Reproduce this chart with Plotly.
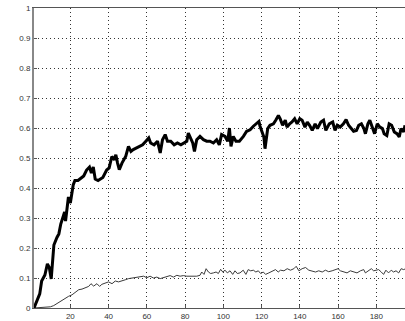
import plotly.graph_objects as go

# thick series (black)
x_main = [1, 4, 5, 6.7, 8, 9, 10, 10.5, 11.4, 13, 14, 15, 16, 17, 17.5, 18, 19, 20, 21.5, 22.4, 24, 26, 27, 28.5, 30, 31, 32, 33, 34.5, 37, 39,
          40.3, 41.7, 43, 43.8, 44.7, 45.6, 47, 48.2, 49, 50.4, 51.7, 52.9, 54.3, 56, 57.8, 59.5, 61, 62, 63.8, 65.6, 67, 68.2, 69.6, 70.8, 72.5, 74.3, 76, 77.8, 79.5,
          80.9, 81.7, 83, 84, 84.9, 86.1, 87.8, 89.6, 91.3, 93, 94.8, 96.5, 97.9, 99.1, 100.9, 102.3, 103.2, 104, 105.2, 106.6, 108.4, 110.5, 112.2, 114, 115.7, 117.4, 118.6, 119.2,
          120.4, 121.2, 121.8, 122.3, 123.2, 124.4, 126.2, 127.4, 128.8, 129.7, 131, 132.4, 133.3, 134.7, 135.9, 137.3, 138.6, 140, 141.2, 142.7, 143.9, 145.1, 146.5, 148, 149.2, 151, 152.4, 153.6, 155.4,
          157.2, 158.4, 159.6, 161.1, 162.8, 164.2, 165.5, 166.7, 168.1, 169.6, 170.8, 172.2, 173.5, 174.3, 175.6, 176.6, 177.9, 179.1, 180.5, 181.9, 183.2, 184.1, 185.5, 186.7, 188, 189.4, 190.8, 192, 192.9, 194.3, 195]
y_main = [0.0, 0.047, 0.09, 0.11, 0.147, 0.135, 0.097, 0.147, 0.21, 0.235, 0.247, 0.28, 0.30, 0.32, 0.29, 0.325, 0.37, 0.35, 0.41, 0.425, 0.425, 0.435, 0.44, 0.46, 0.47, 0.45, 0.47, 0.43, 0.425, 0.435, 0.46,
          0.467, 0.505, 0.494, 0.511, 0.483, 0.461, 0.483, 0.5, 0.506, 0.539, 0.522, 0.528, 0.533, 0.539, 0.544, 0.556, 0.567, 0.55, 0.544, 0.556, 0.517, 0.561, 0.578, 0.556, 0.556, 0.544, 0.55, 0.544, 0.55,
          0.556, 0.583, 0.567, 0.55, 0.522, 0.561, 0.572, 0.561, 0.556, 0.556, 0.55, 0.561, 0.544, 0.578, 0.572, 0.556, 0.6, 0.539, 0.572, 0.556, 0.556, 0.572, 0.589, 0.594, 0.606, 0.617, 0.622, 0.606,
          0.587, 0.57, 0.531, 0.56, 0.598, 0.609, 0.614, 0.626, 0.642, 0.631, 0.609, 0.626, 0.603, 0.614, 0.62, 0.631, 0.614, 0.631, 0.626, 0.603, 0.62, 0.609, 0.592, 0.614, 0.598, 0.62, 0.626, 0.592, 0.614,
          0.62, 0.592, 0.609, 0.603, 0.614, 0.628, 0.609, 0.598, 0.589, 0.592, 0.609, 0.614, 0.598, 0.581, 0.614, 0.626, 0.603, 0.581, 0.614, 0.603, 0.598, 0.581, 0.575, 0.614, 0.609, 0.587, 0.581, 0.57, 0.598, 0.587, 0.609]

# thin series (dark grey)
x_low = [1, 6, 9.6, 11.3, 13.9, 16.5, 19.1, 20.9, 22.6, 24.4, 26.1, 27.8, 29.6, 30.8, 32.2, 33.9, 35.3, 36.5, 38.3, 40, 41.8, 43.5, 45.2, 47, 48.7, 50.5, 52.2,
         54.8, 56.5, 58.3, 60, 61.7, 63.5, 65.2, 67, 68.7, 70.4, 72.2, 73.9, 75.7, 77.4, 79.1, 80.9, 82.6, 84.3, 86.1, 87.8, 88.7, 89.9, 91, 92.2, 93.4, 94.8, 96.2, 97.4, 98.6, 99.7,
         100.9, 102.1, 103.5, 104.9, 106.1, 107.3, 108.7, 110.4, 111.8, 113, 114.3, 115.7, 117, 118.3, 119.5, 120.9,
         122.1, 123.8, 125.6, 127.3, 128.7, 129.9, 131.7, 133.4, 135.1, 136.9, 138.1, 139.5, 141.2, 143, 144.7, 146.4, 148.2, 149.9, 151.7, 153.4, 155.1, 156.9, 158.6, 160,
         161.2, 163, 164.7, 166.4, 168.2, 169.9, 171.7, 173.4, 174.3, 176, 177.4, 178.6, 179.8, 181.2, 182.6, 183.8, 185, 186.4, 187.8, 189, 190.3, 191.7, 193, 194.3, 195]
y_low = [0.0, 0.002, 0.004, 0.008, 0.019, 0.03, 0.039, 0.044, 0.053, 0.061, 0.063, 0.067, 0.072, 0.081, 0.073, 0.081, 0.072, 0.079, 0.083, 0.087, 0.081, 0.09, 0.087, 0.092, 0.094, 0.098, 0.1,
         0.101, 0.103, 0.106, 0.101, 0.106, 0.1, 0.103, 0.098, 0.101, 0.103, 0.108, 0.103, 0.109, 0.106, 0.108, 0.106, 0.106, 0.108, 0.106, 0.109, 0.12, 0.112, 0.131, 0.12, 0.115, 0.117, 0.12, 0.115, 0.129, 0.12,
         0.126, 0.117, 0.124, 0.112, 0.124, 0.115, 0.117, 0.126, 0.112, 0.128, 0.124, 0.126, 0.12, 0.124, 0.115, 0.12,
         0.112, 0.117, 0.124, 0.128, 0.12, 0.126, 0.124, 0.131, 0.126, 0.131, 0.139, 0.124, 0.131, 0.135, 0.126, 0.124, 0.12, 0.124, 0.12, 0.126, 0.121, 0.124, 0.128, 0.131,
         0.124, 0.12, 0.117, 0.124, 0.12, 0.117, 0.124, 0.128, 0.117, 0.126, 0.131, 0.124, 0.126, 0.128, 0.12, 0.112, 0.126, 0.117, 0.126, 0.12, 0.124, 0.117, 0.131, 0.128, 0.13]

x_ticks = [20, 40, 60, 80, 100, 120, 140, 160, 180]
y_ticks = [0, 0.1, 0.2, 0.3, 0.4, 0.5, 0.6, 0.7, 0.8, 0.9, 1]
y_tick_labels = ["0", "0.1", "0.2", "0.3", "0.4", "0.5", "0.6", "0.7", "0.8", "0.9", "1"]

fig = go.Figure()
fig.add_trace(go.Scatter(x=x_low, y=y_low, mode="lines",
                         line=dict(color="#3a3a3a", width=1), showlegend=False))
fig.add_trace(go.Scatter(x=x_main, y=y_main, mode="lines",
                         line=dict(color="black", width=3), showlegend=False))

axis_font = dict(family="Liberation Sans, Arial, sans-serif", size=8, color="#333333")

fig.update_layout(
    width=405, height=321,
    margin=dict(l=34, r=0, t=8, b=13, pad=0),
    paper_bgcolor="white", plot_bgcolor="white",
    xaxis=dict(range=[1, 195], tickvals=x_ticks, showgrid=True,
               gridcolor="#333333", gridwidth=1, griddash="1px,3px",
               showline=True, linecolor="#555555", linewidth=1, mirror=True,
               ticks="inside", ticklen=3, tickcolor="#555555",
               zeroline=False, tickfont=axis_font),
    yaxis=dict(range=[0, 1], tickvals=y_ticks, ticktext=y_tick_labels, showgrid=True,
               gridcolor="#333333", gridwidth=1, griddash="1px,3px",
               showline=True, linecolor="#888888", linewidth=2, mirror=False,
               ticks="inside", ticklen=3, tickcolor="#555555",
               zeroline=False, tickfont=axis_font),
)

# remove the page's default body margin so the figure sits at the window's top-left corner
fig.write_html("out.html", config={"displayModeBar": False},
               post_script="document.body.style.margin='0px';")
